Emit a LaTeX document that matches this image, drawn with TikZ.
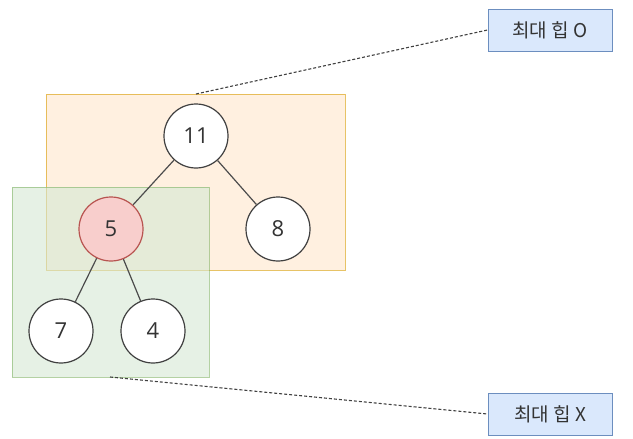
\documentclass[tikz,border=0pt]{standalone}
\usepackage{fontspec}
\setmainfont{Open Sans}
\newfontfamily\krfont{Noto Sans CJK KR}
\definecolor{orangefill}{HTML}{FFE6CC}
\definecolor{orangeline}{HTML}{D79B00}
\definecolor{greenfill}{HTML}{D5E8D4}
\definecolor{greenline}{HTML}{82B366}
\definecolor{redfill}{HTML}{F8CECC}
\definecolor{redline}{HTML}{B85450}
\definecolor{bluefill}{HTML}{DAE8FC}
\definecolor{blueline}{HTML}{6C8EBF}
\definecolor{ink}{HTML}{333333}
\tikzset{
  region/.style={fill opacity=0.6, draw opacity=0.6, line width=0.9pt},
  heapnode/.style={circle, draw=black!75, line width=1.2pt, fill=white,
    minimum size=64pt, inner sep=0pt, font=\fontsize{22}{24}\selectfont, text=ink},
  edge/.style={draw=black!70, line width=1.2pt},
  tag/.style={draw=blueline, fill=bluefill, line width=1pt, minimum width=124pt,
    minimum height=42pt, inner sep=0pt, font=\krfont\fontsize{19}{22}\selectfont, text=ink},
  link/.style={draw=black!75, dash pattern=on 3pt off 2pt, line width=1.1pt}
}
\begin{document}
\begin{tikzpicture}[x=1pt,y=-1pt]
\useasboundingbox (0,0) rectangle (633,439);
% highlighted subtrees
\path[region, fill=orangefill, draw=orangeline] (46,94) rectangle (345,270);
\coordinate (otop) at (196,94);
\path[region, fill=greenfill, draw=greenline] (12,187) rectangle (209,377);
\coordinate (gbot) at (110,377);
% tree
\node[heapnode] (n11) at (196,136) {11};
\node[heapnode, fill=redfill, draw=redline] (n5) at (111,229) {5};
\node[heapnode] (n8) at (278,229) {8};
\node[heapnode] (n7) at (61,331) {7};
\node[heapnode] (n4) at (153,331) {4};
\draw[edge] (n11) -- (n5);
\draw[edge] (n11) -- (n8);
\draw[edge] (n5) -- (n7);
\draw[edge] (n5) -- (n4);
% labels
\node[tag] (yes) at (550,30) {최대 힙 O};
\node[tag] (no) at (550,414) {최대 힙 X};
\draw[link] (otop) -- (yes.west);
\draw[link] (gbot) -- (no.west);
\end{tikzpicture}
\end{document}
